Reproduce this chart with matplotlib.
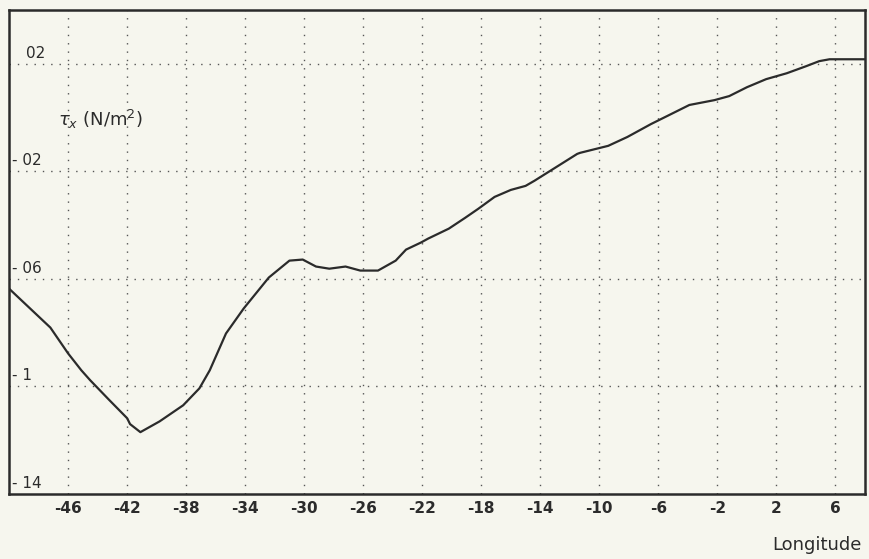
import matplotlib.pyplot as plt

# --- Data ---
longitude = [-50.0, -49.5, -47.2, -46.0, -45.1, -44.5, -43.2, -42.0, -41.8, -41.1,
             -39.8, -38.2, -37.1, -36.4, -35.3, -34.1, -32.4, -31.0, -30.1, -29.2,
             -28.3, -27.2, -26.2, -25.0, -23.8, -23.1, -22.1, -21.6, -20.2, -19.1,
             -18.2, -17.1, -16.0, -15.0, -14.4, -11.5, -11.3, -9.4, -8.1, -6.5,
             -5.4, -3.9, -2.2, -1.2, 0.0, 1.3, 2.7, 4.0, 4.9, 5.6, 8.0]
tau_x = [-0.0636, -0.0662, -0.0781, -0.0877, -0.0940, -0.0977, -0.1051, -0.1118, -0.1140, -0.1170,
         -0.1130, -0.1070, -0.1007, -0.0940, -0.0803, -0.0710, -0.0595, -0.0532, -0.0528, -0.0554,
         -0.0562, -0.0554, -0.0569, -0.0569, -0.0532, -0.0491, -0.0465, -0.0450, -0.0413, -0.0373,
         -0.0339, -0.0295, -0.0269, -0.0254, -0.0235, -0.0135, -0.0131, -0.0105, -0.0072, -0.0024,
         0.0006, 0.0047, 0.0065, 0.0080, 0.0113, 0.0143, 0.0165, 0.0191, 0.0210, 0.0217, 0.0217]

x_ticks = [-46, -42, -38, -34, -30, -26, -22, -18, -14, -10, -6, -2, 2, 6]
x_labels = ["-46", "-42", "-38", "-34", "-30", "-26", "-22", "-18", "-14", "-10", "-6", "-2", "2", "6"]
y_ticks = [0.02, -0.02, -0.06, -0.1, -0.14]
y_labels = ["02", "- 02", "- 06", "- 1", "- 14"]
y_grid = [0.02, -0.02, -0.06, -0.1]

BG = "#f6f6ee"
INK = "#2b2b2b"

fig = plt.figure(figsize=(8.69, 5.59), dpi=100, facecolor=BG)
ax = fig.add_axes([0.0104, 0.1163, 0.985, 0.8657], facecolor=BG)

ax.set_xlim(-50, 8)
ax.set_ylim(-0.14, 0.04)

# dotted grid
for xv in x_ticks:
    ax.axvline(xv, color="#555555", lw=1.0, ls=(0, (1, 5)), zorder=1)
for yv in y_grid:
    ax.axhline(yv, color="#555555", lw=1.0, ls=(0, (1, 5)), zorder=1)

ax.plot(longitude, tau_x, color=INK, lw=1.6, zorder=3)

ax.set_xticks(x_ticks)
ax.set_xticklabels(x_labels, fontsize=11, fontweight="bold", color=INK)
ax.tick_params(axis="x", length=0, pad=5)
ax.set_yticks([])

for sp in ax.spines.values():
    sp.set_color(INK)
    sp.set_linewidth(1.8)

# y labels sit inside the frame, just above their gridlines
trans = ax.get_yaxis_transform()
for yv, lab in zip(y_ticks, y_labels):
    x0 = 0.020 if lab == "02" else 0.004
    ax.text(x0, yv + 0.0012, lab, transform=trans, ha="left", va="bottom",
            fontsize=11, color=INK)

ax.text(0.057, -0.0006, r"$\tau_x$ (N/m$^2$)", transform=trans, ha="left",
        va="center", fontsize=13, color=INK)

fig.text(0.992, 0.025, "Longitude", ha="right", va="center", fontsize=13,
         color=INK)

fig.savefig("out.png", dpi=100, facecolor=BG)
